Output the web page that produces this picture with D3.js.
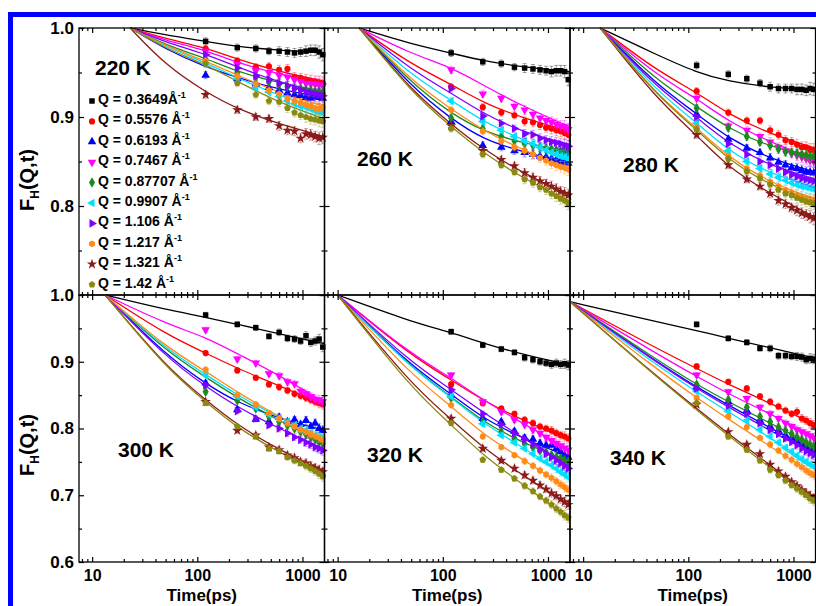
<!DOCTYPE html>
<html>
<head>
<meta charset="utf-8">
<script src="https://cdn.jsdelivr.net/npm/d3@7"></script>
<style>
  body { margin: 0; background: #fff; }
  svg { display: block; font-family: "Liberation Sans", Arial, sans-serif; font-weight: bold; }
</style>
</head>
<body>
<div id="chart"></div>
<script>
// ---- data ----
var temps = ["220 K", "260 K", "280 K", "300 K", "320 K", "340 K"];
var qValues = ["0.3649", "0.5576", "0.6193", "0.7467", "0.87707", "0.9907", "1.106", "1.217", "1.321", "1.42"];

// measured times (ps) and error bar half widths
var times = [120, 240, 360, 480, 600, 720, 840, 960, 1080, 1200, 1320, 1440, 1560];
var errHalf = [0.004, 0.004, 0.004, 0.004, 0.005, 0.005, 0.005, 0.005, 0.006, 0.006, 0.006, 0.007, 0.007];

// fit curves: first time differs per panel, then common sample times
var fitStart = [23, 16, 14.5, 13.3, 10, 7.5];
var fitTimes = [50, 120, 240, 600, 1620];

// series order: black, red, blue, magenta, green, cyan, violet, orange, wine, olive
var fit220 = [
  [1.0, 0.992, 0.985, 0.979, 0.975, 0.972],
  [1.0, 0.988, 0.978, 0.965, 0.951, 0.940],
  [1.0, 0.976, 0.956, 0.944, 0.931, 0.922],
  [1.0, 0.986, 0.975, 0.961, 0.948, 0.937],
  [1.0, 0.981, 0.966, 0.951, 0.938, 0.929],
  [1.0, 0.979, 0.961, 0.944, 0.924, 0.908],
  [1.0, 0.984, 0.971, 0.956, 0.939, 0.926],
  [1.0, 0.980, 0.963, 0.947, 0.927, 0.912],
  [1.0, 0.958, 0.928, 0.909, 0.892, 0.878],
  [1.0, 0.977, 0.959, 0.940, 0.916, 0.898]
];
var pts220 = [
  [0.985, 0.978, 0.977, 0.974, 0.974, 0.973, 0.972, 0.973, 0.974, 0.975, 0.975, 0.973, 0.970],
  [0.977, 0.963, 0.956, 0.957, 0.953, 0.954, 0.945, 0.944, 0.942, 0.941, 0.940, 0.939, 0.938],
  [0.947, 0.943, 0.937, 0.933, 0.930, 0.927, 0.925, 0.924, 0.922, 0.921, 0.923, 0.922, 0.921],
  [0.974, 0.959, 0.952, 0.950, 0.947, 0.945, 0.942, 0.940, 0.938, 0.937, 0.937, 0.936, 0.935],
  [0.965, 0.950, 0.945, 0.940, 0.937, 0.934, 0.932, 0.931, 0.930, 0.929, 0.928, 0.928, 0.927],
  [0.960, 0.943, 0.933, 0.928, 0.923, 0.918, 0.915, 0.912, 0.911, 0.909, 0.907, 0.906, 0.905],
  [0.970, 0.955, 0.946, 0.942, 0.938, 0.935, 0.932, 0.930, 0.928, 0.927, 0.926, 0.925, 0.924],
  [0.963, 0.946, 0.937, 0.930, 0.926, 0.921, 0.918, 0.916, 0.914, 0.912, 0.910, 0.909, 0.911],
  [0.925, 0.908, 0.900, 0.898, 0.890, 0.885, 0.884, 0.876, 0.881, 0.880, 0.878, 0.876, 0.877],
  [0.960, 0.938, 0.925, 0.918, 0.917, 0.910, 0.905, 0.902, 0.900, 0.898, 0.897, 0.896, 0.895]
];

var fit260 = [
  [1.0, 0.982, 0.972, 0.963, 0.956, 0.951],
  [1.0, 0.959, 0.937, 0.916, 0.898, 0.884],
  [1.0, 0.934, 0.898, 0.875, 0.860, 0.849],
  [1.0, 0.971, 0.956, 0.936, 0.911, 0.889],
  [1.0, 0.938, 0.904, 0.884, 0.870, 0.861],
  [1.0, 0.947, 0.919, 0.895, 0.873, 0.855],
  [1.0, 0.953, 0.927, 0.904, 0.882, 0.869],
  [1.0, 0.941, 0.909, 0.885, 0.862, 0.842],
  [1.0, 0.930, 0.892, 0.864, 0.836, 0.812],
  [1.0, 0.928, 0.889, 0.860, 0.830, 0.805]
];
var pts260 = [
  [0.972, 0.962, 0.960, 0.956, 0.955, 0.954, 0.953, 0.952, 0.951, 0.952, 0.952, 0.951, 0.942],
  [0.934, 0.911, 0.905, 0.902, 0.895, 0.894, 0.891, 0.888, 0.887, 0.885, 0.884, 0.882, 0.880],
  [0.895, 0.868, 0.866, 0.862, 0.860, 0.858, 0.856, 0.855, 0.853, 0.852, 0.850, 0.849, 0.848],
  [0.953, 0.926, 0.921, 0.912, 0.908, 0.903, 0.899, 0.896, 0.894, 0.892, 0.890, 0.889, 0.886],
  [0.899, 0.887, 0.878, 0.873, 0.870, 0.868, 0.866, 0.865, 0.864, 0.863, 0.862, 0.861, 0.860],
  [0.918, 0.895, 0.885, 0.878, 0.873, 0.870, 0.866, 0.863, 0.860, 0.858, 0.856, 0.855, 0.853],
  [0.932, 0.901, 0.893, 0.887, 0.881, 0.880, 0.876, 0.874, 0.872, 0.871, 0.870, 0.868, 0.867],
  [0.908, 0.884, 0.873, 0.866, 0.862, 0.858, 0.854, 0.851, 0.848, 0.846, 0.844, 0.843, 0.841],
  [0.890, 0.862, 0.852, 0.845, 0.837, 0.832, 0.828, 0.825, 0.822, 0.819, 0.816, 0.814, 0.812],
  [0.887, 0.858, 0.846, 0.838, 0.830, 0.826, 0.821, 0.818, 0.814, 0.811, 0.808, 0.806, 0.803]
];

var fit280 = [
  [1.0, 0.970, 0.950, 0.940, 0.933, 0.931],
  [1.0, 0.952, 0.928, 0.903, 0.881, 0.865],
  [1.0, 0.936, 0.904, 0.876, 0.853, 0.838],
  [1.0, 0.947, 0.921, 0.895, 0.872, 0.851],
  [1.0, 0.941, 0.912, 0.887, 0.866, 0.856],
  [1.0, 0.929, 0.894, 0.862, 0.836, 0.821],
  [1.0, 0.933, 0.900, 0.870, 0.845, 0.830],
  [1.0, 0.925, 0.888, 0.855, 0.826, 0.808],
  [1.0, 0.920, 0.880, 0.843, 0.814, 0.787],
  [1.0, 0.924, 0.886, 0.852, 0.823, 0.805]
];
var pts280 = [
  [0.958, 0.948, 0.943, 0.938, 0.934, 0.932, 0.932, 0.932, 0.931, 0.931, 0.930, 0.932, 0.931],
  [0.929, 0.905, 0.896, 0.896, 0.885, 0.880, 0.874, 0.872, 0.869, 0.866, 0.866, 0.863, 0.863],
  [0.903, 0.875, 0.865, 0.860, 0.854, 0.849, 0.846, 0.843, 0.842, 0.840, 0.838, 0.838, 0.837],
  [0.921, 0.890, 0.885, 0.878, 0.872, 0.866, 0.862, 0.859, 0.857, 0.855, 0.853, 0.851, 0.850],
  [0.910, 0.888, 0.878, 0.872, 0.868, 0.864, 0.861, 0.860, 0.859, 0.858, 0.857, 0.856, 0.856],
  [0.893, 0.862, 0.850, 0.842, 0.836, 0.832, 0.829, 0.826, 0.824, 0.822, 0.821, 0.820, 0.819],
  [0.900, 0.870, 0.858, 0.850, 0.846, 0.842, 0.838, 0.835, 0.833, 0.831, 0.830, 0.829, 0.828],
  [0.888, 0.856, 0.842, 0.834, 0.827, 0.822, 0.818, 0.815, 0.812, 0.810, 0.808, 0.807, 0.806],
  [0.880, 0.846, 0.830, 0.822, 0.814, 0.806, 0.802, 0.798, 0.795, 0.792, 0.790, 0.788, 0.786],
  [0.886, 0.853, 0.839, 0.831, 0.824, 0.818, 0.814, 0.812, 0.809, 0.807, 0.805, 0.804, 0.803]
];

var fit300 = [
  [1.0, 0.978, 0.967, 0.956, 0.942, 0.927],
  [1.0, 0.941, 0.913, 0.890, 0.864, 0.836],
  [1.0, 0.910, 0.867, 0.839, 0.815, 0.797],
  [1.0, 0.957, 0.937, 0.912, 0.880, 0.839],
  [1.0, 0.916, 0.877, 0.846, 0.812, 0.777],
  [1.0, 0.919, 0.881, 0.850, 0.816, 0.784],
  [1.0, 0.907, 0.863, 0.832, 0.800, 0.768],
  [1.0, 0.922, 0.886, 0.854, 0.818, 0.781],
  [1.0, 0.893, 0.843, 0.805, 0.768, 0.735],
  [1.0, 0.891, 0.840, 0.801, 0.764, 0.730]
];
var pts300 = [
  [0.970, 0.956, 0.951, 0.938, 0.944, 0.935, 0.934, 0.931, 0.939, 0.929, 0.931, 0.934, 0.922],
  [0.913, 0.887, 0.876, 0.866, 0.862, 0.857, 0.852, 0.849, 0.846, 0.843, 0.840, 0.838, 0.836],
  [0.868, 0.828, 0.814, 0.810, 0.817, 0.810, 0.813, 0.806, 0.812, 0.803, 0.808, 0.800, 0.797],
  [0.948, 0.904, 0.898, 0.882, 0.879, 0.870, 0.867, 0.856, 0.852, 0.848, 0.844, 0.843, 0.840],
  [0.855, 0.842, 0.830, 0.818, 0.810, 0.805, 0.800, 0.795, 0.791, 0.787, 0.784, 0.780, 0.777],
  [0.880, 0.848, 0.832, 0.821, 0.815, 0.810, 0.805, 0.800, 0.797, 0.793, 0.790, 0.787, 0.785],
  [0.865, 0.826, 0.815, 0.805, 0.800, 0.793, 0.787, 0.783, 0.779, 0.776, 0.772, 0.770, 0.767],
  [0.888, 0.850, 0.836, 0.823, 0.815, 0.808, 0.803, 0.798, 0.795, 0.791, 0.789, 0.786, 0.783],
  [0.840, 0.797, 0.790, 0.772, 0.768, 0.760, 0.756, 0.750, 0.748, 0.744, 0.741, 0.738, 0.735],
  [0.838, 0.803, 0.788, 0.770, 0.766, 0.757, 0.752, 0.748, 0.744, 0.740, 0.736, 0.732, 0.728]
];

var fit320 = [
  [1.0, 0.960, 0.944, 0.928, 0.910, 0.895],
  [1.0, 0.909, 0.873, 0.842, 0.811, 0.782],
  [1.0, 0.893, 0.852, 0.815, 0.784, 0.757],
  [1.0, 0.911, 0.876, 0.843, 0.806, 0.768],
  [1.0, 0.891, 0.848, 0.810, 0.777, 0.750],
  [1.0, 0.890, 0.847, 0.808, 0.770, 0.727],
  [1.0, 0.898, 0.859, 0.824, 0.785, 0.740],
  [1.0, 0.880, 0.834, 0.791, 0.752, 0.708],
  [1.0, 0.866, 0.814, 0.771, 0.728, 0.685],
  [1.0, 0.860, 0.806, 0.760, 0.714, 0.665]
];
var pts320 = [
  [0.945, 0.925, 0.919, 0.914, 0.906, 0.903, 0.900, 0.898, 0.896, 0.898, 0.896, 0.897, 0.895],
  [0.866, 0.838, 0.830, 0.822, 0.813, 0.808, 0.803, 0.800, 0.797, 0.793, 0.790, 0.788, 0.785],
  [0.850, 0.815, 0.810, 0.796, 0.786, 0.784, 0.778, 0.775, 0.775, 0.770, 0.765, 0.760, 0.757],
  [0.880, 0.840, 0.825, 0.813, 0.806, 0.798, 0.793, 0.787, 0.782, 0.778, 0.774, 0.771, 0.768],
  [0.846, 0.810, 0.795, 0.785, 0.777, 0.772, 0.767, 0.764, 0.760, 0.757, 0.755, 0.752, 0.750],
  [0.848, 0.807, 0.790, 0.779, 0.770, 0.762, 0.755, 0.750, 0.745, 0.740, 0.735, 0.731, 0.727],
  [0.858, 0.822, 0.806, 0.793, 0.784, 0.776, 0.769, 0.762, 0.757, 0.752, 0.748, 0.744, 0.740],
  [0.835, 0.788, 0.772, 0.760, 0.751, 0.744, 0.737, 0.731, 0.726, 0.721, 0.716, 0.712, 0.708],
  [0.815, 0.770, 0.752, 0.740, 0.730, 0.722, 0.715, 0.709, 0.703, 0.699, 0.694, 0.690, 0.686],
  [0.808, 0.753, 0.738, 0.725, 0.714, 0.706, 0.698, 0.692, 0.686, 0.680, 0.675, 0.670, 0.666]
];

var fit340 = [
  [0.99, 0.960, 0.947, 0.935, 0.921, 0.905],
  [0.99, 0.920, 0.890, 0.866, 0.838, 0.805],
  [0.99, 0.900, 0.862, 0.835, 0.801, 0.765],
  [0.99, 0.912, 0.878, 0.852, 0.822, 0.787],
  [0.99, 0.903, 0.866, 0.840, 0.808, 0.773],
  [0.99, 0.895, 0.855, 0.825, 0.786, 0.743],
  [0.99, 0.899, 0.860, 0.832, 0.797, 0.760],
  [0.99, 0.889, 0.846, 0.814, 0.773, 0.730],
  [0.99, 0.878, 0.830, 0.792, 0.745, 0.695],
  [0.99, 0.877, 0.828, 0.789, 0.741, 0.692]
];
var pts340 = [
  [0.956, 0.935, 0.929, 0.920, 0.920, 0.909, 0.909, 0.908, 0.908, 0.907, 0.903, 0.905, 0.904],
  [0.893, 0.870, 0.860, 0.848, 0.840, 0.833, 0.827, 0.822, 0.825, 0.815, 0.812, 0.808, 0.805],
  [0.862, 0.840, 0.827, 0.812, 0.803, 0.797, 0.790, 0.786, 0.781, 0.776, 0.772, 0.768, 0.765],
  [0.880, 0.855, 0.845, 0.832, 0.822, 0.815, 0.808, 0.803, 0.798, 0.795, 0.792, 0.789, 0.786],
  [0.866, 0.843, 0.832, 0.818, 0.810, 0.802, 0.797, 0.792, 0.787, 0.783, 0.779, 0.776, 0.773],
  [0.856, 0.826, 0.812, 0.798, 0.788, 0.779, 0.771, 0.765, 0.759, 0.754, 0.750, 0.746, 0.743],
  [0.860, 0.834, 0.822, 0.808, 0.798, 0.792, 0.785, 0.780, 0.775, 0.770, 0.766, 0.763, 0.760],
  [0.846, 0.818, 0.802, 0.786, 0.776, 0.767, 0.759, 0.753, 0.747, 0.742, 0.737, 0.733, 0.730],
  [0.836, 0.795, 0.776, 0.762, 0.746, 0.736, 0.728, 0.720, 0.714, 0.708, 0.703, 0.699, 0.695],
  [0.838, 0.788, 0.768, 0.752, 0.738, 0.730, 0.722, 0.715, 0.710, 0.705, 0.700, 0.695, 0.692]
];

var allFits = [fit220, fit260, fit280, fit300, fit320, fit340];
var allPts = [pts220, pts260, pts280, pts300, pts320, pts340];

// axis ticks
var xMajor = [10, 100, 1000];
var xMinor = [8, 9, 20, 30, 40, 50, 60, 70, 80, 90, 200, 300, 400, 500, 600, 700, 800, 900];
var yMajor = [0.6, 0.7, 0.8, 0.9, 1.0];
var yMinor = [0.65, 0.75, 0.85, 0.95];

// ---- layout ----
var svgWidth = 816;
var svgHeight = 606;
var panelLeft = [79, 324.5, 570];
var panelTop = [28, 295];
var panelW = 245.5;
var panelH = 267;
var xDomain = [7.5, 1620];
var yDomains = [[0.7, 1.0], [0.6, 1.0]];
var tempPos = [[95, 75], [357, 166], [623, 172], [118, 457], [367, 462], [610, 465]];

var colors = ["#000000", "#ff0000", "#0000ff", "#ff00ff", "#1e8a1e", "#00e0ff", "#8000ff", "#ff8c1a", "#8b1a1a", "#8a8a10"];

function polygon(n, rot) {
  return {
    draw: function(ctx, size) {
      var r = Math.sqrt(size / (n / 2 * Math.sin(2 * Math.PI / n)));
      for (var i = 0; i < n; i++) {
        var a = rot + i * 2 * Math.PI / n;
        if (i === 0) ctx.moveTo(r * Math.sin(a), -r * Math.cos(a));
        else ctx.lineTo(r * Math.sin(a), -r * Math.cos(a));
      }
      ctx.closePath();
    }
  };
}

// symbol type, rotation, area per series
var shapes = [
  [d3.symbolSquare, 0, 30], [d3.symbolCircle, 0, 30], [d3.symbolTriangle, 0, 32],
  [d3.symbolTriangle, 180, 32], [d3.symbolDiamond, 0, 32], [d3.symbolTriangle, -90, 32],
  [d3.symbolTriangle, 90, 32], [polygon(6, 0), 0, 30], [d3.symbolStar, 0, 34], [polygon(5, 0), 0, 30]
];

function symbolPath(i) {
  return d3.symbol().type(shapes[i][0]).size(shapes[i][2])();
}

var svg = d3.select("#chart")
  .append("svg")
  .attr("width", svgWidth)
  .attr("height", svgHeight);

svg.append("rect")
  .attr("width", svgWidth)
  .attr("height", svgHeight)
  .attr("fill", "#fff");

temps.forEach(function(temp, p) {
  var row = Math.floor(p / 3), col = p % 3;
  var left = panelLeft[col], top = panelTop[row];

  var x = d3.scaleLog().domain(xDomain).range([left, left + panelW]);
  var y = d3.scaleLinear().domain(yDomains[row]).range([top + panelH, top]);

  var g = svg.append("g");

  // fit lines (smooth B-spline through the sampled fit values)
  var line = d3.line()
    .x(d => x(d[0]))
    .y(d => y(d[1]))
    .curve(d3.curveBasis);

  allFits[p].forEach(function(vals, s) {
    var ts = [fitStart[p]].concat(fitTimes);
    g.append("path")
      .datum(ts.map((t, k) => [t, vals[k]]))
      .attr("d", line)
      .attr("fill", "none")
      .attr("stroke", colors[s])
      .attr("stroke-width", 1.3);
  });

  // data points with error bars
  allPts[p].forEach(function(vals, s) {
    var sg = g.append("g");
    var pts = vals.map((v, k) => ({t: times[k], v: v, e: errHalf[k]}));

    sg.selectAll("path.err")
      .data(pts)
      .enter()
      .append("path")
      .attr("class", "err")
      .attr("d", d => {
        var cx = x(d.t), y1 = y(d.v + d.e), y2 = y(d.v - d.e);
        return `M${cx},${y1}V${y2}M${cx - 2},${y1}H${cx + 2}M${cx - 2},${y2}H${cx + 2}`;
      })
      .attr("stroke", colors[s])
      .attr("stroke-opacity", 0.45)
      .attr("stroke-width", 0.8)
      .attr("fill", "none");

    sg.selectAll("path.pt")
      .data(pts)
      .enter()
      .append("path")
      .attr("class", "pt")
      .attr("d", symbolPath(s))
      .attr("transform", d => `translate(${x(d.t)},${y(d.v)}) rotate(${shapes[s][1]})`)
      .attr("fill", colors[s]);
  });

  // axes: ticks point inward on all four sides
  function styleAxis(sel) {
    sel.select(".domain").remove();
    sel.selectAll("line").attr("stroke", "#000").attr("stroke-width", 1.2);
    sel.selectAll("text")
      .attr("font-family", '"Liberation Sans", Arial, sans-serif')
      .attr("font-size", 17)
      .attr("font-weight", "bold")
      .attr("fill", "#000");
  }

  var xFmt = row === 1 ? d3.format("d") : () => "";
  g.append("g")
    .attr("transform", `translate(0,${top + panelH})`)
    .call(d3.axisBottom(x).tickValues(xMajor).tickSizeInner(-5).tickSizeOuter(0).tickPadding(8).tickFormat(xFmt))
    .call(styleAxis)
    .call(sel => sel.selectAll("text").attr("font-size", 16));
  g.append("g")
    .attr("transform", `translate(0,${top + panelH})`)
    .call(d3.axisBottom(x).tickValues(xMinor).tickSizeInner(-3).tickSizeOuter(0).tickFormat(""))
    .call(styleAxis);
  g.append("g")
    .attr("transform", `translate(0,${top})`)
    .call(d3.axisTop(x).tickValues(xMajor).tickSizeInner(-5).tickSizeOuter(0).tickFormat(""))
    .call(styleAxis);
  g.append("g")
    .attr("transform", `translate(0,${top})`)
    .call(d3.axisTop(x).tickValues(xMinor).tickSizeInner(-3).tickSizeOuter(0).tickFormat(""))
    .call(styleAxis);

  var yDom = yDomains[row];
  var yMaj = yMajor.filter(v => v >= yDom[0] - 1e-9);
  var yMin = yMinor.filter(v => v > yDom[0]);
  var yFmt = function(d) {
    if (col !== 0) return "";
    if (row === 0 && d < 0.75) return "";
    return d3.format(".1f")(d);
  };
  g.append("g")
    .attr("transform", `translate(${left},0)`)
    .call(d3.axisLeft(y).tickValues(yMaj).tickSizeInner(-5).tickSizeOuter(0).tickPadding(5).tickFormat(yFmt))
    .call(styleAxis);
  g.append("g")
    .attr("transform", `translate(${left},0)`)
    .call(d3.axisLeft(y).tickValues(yMin).tickSizeInner(-3).tickSizeOuter(0).tickFormat(""))
    .call(styleAxis);
  g.append("g")
    .attr("transform", `translate(${left + panelW},0)`)
    .call(d3.axisRight(y).tickValues(yMaj).tickSizeInner(-5).tickSizeOuter(0).tickFormat(""))
    .call(styleAxis);
  g.append("g")
    .attr("transform", `translate(${left + panelW},0)`)
    .call(d3.axisRight(y).tickValues(yMin).tickSizeInner(-3).tickSizeOuter(0).tickFormat(""))
    .call(styleAxis);

  // panel frame
  g.append("rect")
    .attr("x", left)
    .attr("y", top)
    .attr("width", panelW)
    .attr("height", panelH)
    .attr("fill", "none")
    .attr("stroke", "#000")
    .attr("stroke-width", 1.3);

  // temperature label
  g.append("text")
    .attr("x", tempPos[p][0])
    .attr("y", tempPos[p][1])
    .attr("font-size", 21)
    .text(temp);

  // x axis title under bottom row
  if (row === 1) {
    g.append("text")
      .attr("x", left + panelW / 2)
      .attr("y", 601)
      .attr("text-anchor", "middle")
      .attr("font-size", 17)
      .text("Time(ps)");
  }

  // y axis title on the left column
  if (col === 0) {
    var yt = g.append("text")
      .attr("transform", `translate(34,${row === 0 ? 180 : 445}) rotate(-90)`)
      .attr("text-anchor", "middle")
      .attr("font-size", 20);
    yt.append("tspan").text("F");
    yt.append("tspan").attr("font-size", 12).attr("dy", 5).text("H");
    yt.append("tspan").attr("dy", -5).text("(Q,t)");
  }
});

// legend inside the 220 K panel
var legend = svg.append("g");
qValues.forEach(function(q, i) {
  var cy = 99 + i * 20.4;
  legend.append("path")
    .attr("d", symbolPath(i))
    .attr("transform", `translate(92,${cy + 2}) rotate(${shapes[i][1]})`)
    .attr("fill", colors[i]);
  var t = legend.append("text")
    .attr("x", 98)
    .attr("y", cy + 5)
    .attr("font-size", 14);
  t.append("tspan").text("Q = " + q + (i === 0 ? "Å" : " Å"));
  t.append("tspan").attr("font-size", 9).attr("dy", -6).text("-1");
});

// blue outer frame
svg.append("rect")
  .attr("x", 10.5)
  .attr("y", 14.5)
  .attr("width", 850)
  .attr("height", 650)
  .attr("fill", "none")
  .attr("stroke", "#0000ff")
  .attr("stroke-width", 5);
</script>
</body>
</html>
